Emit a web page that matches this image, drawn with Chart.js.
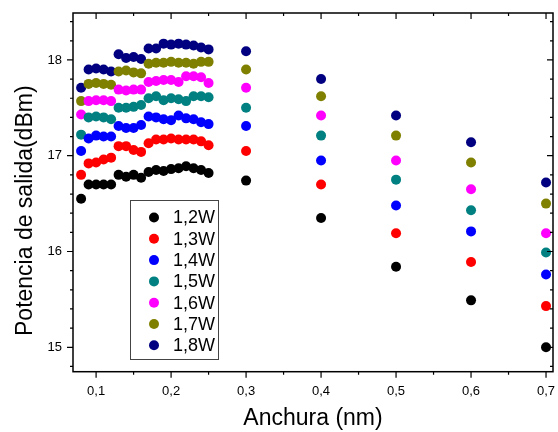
<!DOCTYPE html>
<html>
<head>
<meta charset="utf-8">
<script src="https://cdn.jsdelivr.net/npm/chart.js@4.4.1/dist/chart.umd.min.js"></script>
<style>
  body { margin: 0; background: #fff; }
  #wrap { width: 558px; height: 432px; }
</style>
</head>
<body>
<div id="wrap"><canvas id="chart" width="558" height="432"></canvas></div>
<script>
// anchura de pulso (nm)
const anchura = [0.08, 0.09, 0.10, 0.11, 0.12, 0.13, 0.14, 0.15, 0.16,
  0.17, 0.18, 0.19, 0.20, 0.21, 0.22, 0.23, 0.24, 0.25, 0.3, 0.4, 0.5, 0.6, 0.7];

// potencia de salida (dBm) para cada potencia de bombeo
const p12 = [16.55, 16.70, 16.70, 16.70, 16.70, 16.80, 16.78, 16.80, 16.77,
  16.83, 16.85, 16.84, 16.86, 16.87, 16.89, 16.87, 16.85, 16.82, 16.74, 16.35, 15.84, 15.49, 15.00];
const p13 = [16.80, 16.92, 16.93, 16.96, 16.98, 17.10, 17.10, 17.06, 17.04,
  17.13, 17.17, 17.17, 17.18, 17.17, 17.17, 17.17, 17.15, 17.11, 17.05, 16.70, 16.19, 15.89, 15.43];
const p14 = [17.05, 17.18, 17.21, 17.20, 17.20, 17.31, 17.29, 17.29, 17.32,
  17.41, 17.40, 17.38, 17.37, 17.42, 17.39, 17.38, 17.35, 17.33, 17.31, 16.95, 16.48, 16.21, 15.76];
const p15 = [17.22, 17.40, 17.41, 17.40, 17.38, 17.50, 17.50, 17.51, 17.53,
  17.60, 17.62, 17.58, 17.60, 17.59, 17.57, 17.62, 17.62, 17.61, 17.50, 17.21, 16.75, 16.43, 15.99];
const p16 = [17.43, 17.57, 17.58, 17.58, 17.57, 17.69, 17.68, 17.69, 17.69,
  17.77, 17.78, 17.79, 17.79, 17.77, 17.83, 17.83, 17.82, 17.76, 17.71, 17.42, 16.95, 16.65, 16.19];
const p17 = [17.57, 17.75, 17.76, 17.75, 17.74, 17.88, 17.89, 17.87, 17.86,
  17.96, 17.97, 17.97, 17.98, 17.97, 17.97, 17.96, 17.98, 17.98, 17.90, 17.62, 17.21, 16.93, 16.50];
const p18 = [17.71, 17.90, 17.91, 17.90, 17.88, 18.06, 18.02, 18.03, 18.01,
  18.12, 18.12, 18.17, 18.16, 18.17, 18.16, 18.15, 18.13, 18.11, 18.09, 17.80, 17.42, 17.14, 16.72];

const etiquetas = ['1,2W', '1,3W', '1,4W', '1,5W', '1,6W', '1,7W', '1,8W'];
const series = [p12, p13, p14, p15, p16, p17, p18];
const colores = ['#000000', '#ff0000', '#0000ff', '#008080', '#ff00ff', '#808000', '#000080'];

const FONT = '"Liberation Sans", Arial, sans-serif';
Chart.defaults.font.family = FONT;
Chart.defaults.color = '#000';

const datasets = series.map((s, i) => ({
  label: etiquetas[i],
  data: s.map((y, j) => ({ x: anchura[j], y })),
  backgroundColor: colores[i],
  borderWidth: 0,
  pointRadius: 5,
  pointHoverRadius: 5,
  clip: false
}));

// marco con marcas mayores y menores en los cuatro lados
const marco = {
  id: 'marco',
  afterDraw(chart) {
    const { ctx, chartArea: a, scales: { x, y } } = chart;
    ctx.save();
    ctx.strokeStyle = '#000';
    ctx.lineWidth = 1.5;
    ctx.strokeRect(a.left, a.top, a.right - a.left, a.bottom - a.top);
    ctx.lineWidth = 1.2;
    ctx.beginPath();
    for (let v = 0.05; v <= x.max + 1e-9; v += 0.05) {
      if (v < x.min) continue;
      const px = x.getPixelForValue(v);
      const mayor = Math.abs(v * 10 - Math.round(v * 10)) < 1e-6;
      const len = mayor ? 6 : 3;
      ctx.moveTo(px, a.bottom); ctx.lineTo(px, a.bottom + len);
      ctx.moveTo(px, a.top); ctx.lineTo(px, a.top + len);
    }
    for (let k = 0; k * 0.2 + 14.8 <= y.max + 1e-9; k++) {
      const v = 14.8 + k * 0.2;
      const py = y.getPixelForValue(v);
      const mayor = Math.abs(v - Math.round(v)) < 1e-6;
      const len = mayor ? 6 : 3;
      ctx.moveTo(a.left, py); ctx.lineTo(a.left - len, py);
      ctx.moveTo(a.right, py); ctx.lineTo(a.right - len, py);
    }
    ctx.stroke();

    // título del eje Y
    ctx.fillStyle = '#000';
    ctx.font = '23px ' + FONT;
    ctx.translate(32, 336);
    ctx.rotate(-Math.PI / 2);
    ctx.textAlign = 'left';
    ctx.textBaseline = 'alphabetic';
    ctx.fillText('Potencia de salida(dBm)', 0, 0);
    ctx.restore();
  }
};

// leyenda en recuadro dentro del área
const leyenda = {
  id: 'leyenda',
  afterDatasetsDraw(chart) {
    const { ctx } = chart;
    ctx.save();
    ctx.fillStyle = '#fff';
    ctx.fillRect(130.5, 200.5, 88, 159);
    ctx.strokeStyle = '#444';
    ctx.lineWidth = 1;
    ctx.strokeRect(130.5, 200.5, 88, 159);
    ctx.font = '18px ' + FONT;
    ctx.textBaseline = 'middle';
    chart.data.datasets.forEach((ds, i) => {
      const cy = 217.5 + i * 21.3;
      ctx.fillStyle = ds.backgroundColor;
      ctx.beginPath();
      ctx.arc(154, cy, 5, 0, Math.PI * 2);
      ctx.fill();
      ctx.fillStyle = '#000';
      ctx.fillText(ds.label, 173, cy + 1);
    });
    ctx.restore();
  }
};

new Chart(document.getElementById('chart'), {
  type: 'scatter',
  data: { datasets },
  options: {
    responsive: false,
    animation: false,
    devicePixelRatio: 1,
    layout: { padding: { top: 13, right: 1, left: 0, bottom: 0 } },
    plugins: { legend: { display: false }, tooltip: { enabled: false } },
    scales: {
      x: {
        type: 'linear',
        min: 0.0692,
        max: 0.7093,
        grid: { display: false, drawTicks: false },
        border: { display: false },
        ticks: {
          stepSize: 0.1,
          includeBounds: false,
          padding: 12,
          font: { size: 13 },
          callback: v => v.toFixed(1).replace('.', ',')
        },
        title: {
          display: true,
          text: 'Anchura (nm)',
          font: { size: 23 },
          padding: { top: 0, bottom: 0 }
        },
        afterFit: s => { s.height = 60.3; s.paddingLeft = 0; s.paddingRight = 0; }
      },
      y: {
        type: 'linear',
        min: 14.745,
        max: 18.49,
        grid: { display: false, drawTicks: false },
        border: { display: false },
        ticks: {
          stepSize: 1,
          includeBounds: false,
          padding: 11,
          font: { size: 13 },
          callback: v => String(v)
        },
        afterFit: s => { s.width = 73; s.paddingTop = 0; s.paddingBottom = 0; }
      }
    }
  },
  plugins: [marco, leyenda]
});
</script>
</body>
</html>
